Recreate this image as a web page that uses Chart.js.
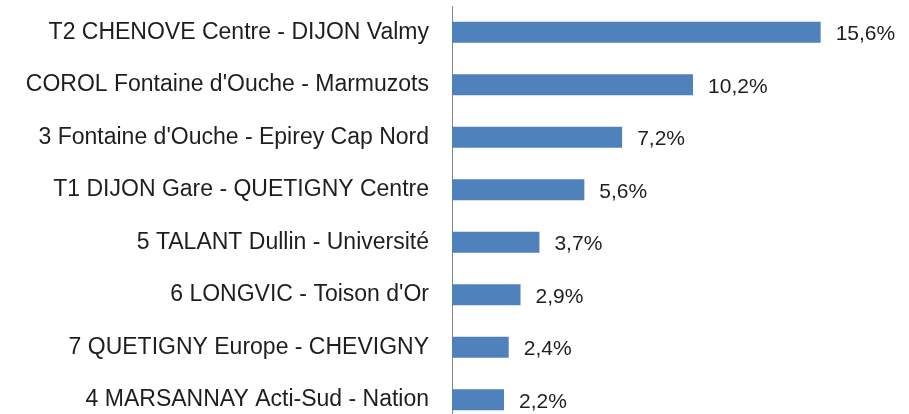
<!DOCTYPE html>
<html>
<head>
<meta charset="utf-8">
<script src="https://cdn.jsdelivr.net/npm/chart.js@4/dist/chart.umd.min.js"></script>
<style>
  html, body { margin: 0; padding: 0; background: #fff; overflow: hidden; }
  #box { width: 909px; height: 430px; position: relative; }
</style>
</head>
<body>
<div id="box"><canvas id="grafico"></canvas></div>
<script>
// lignes et parts (%)
const lignes = [
  'T2 CHENOVE Centre - DIJON Valmy',
  "COROL Fontaine d'Ouche - Marmuzots",
  "3 Fontaine d'Ouche - Epirey Cap Nord",
  'T1 DIJON Gare - QUETIGNY Centre',
  '5 TALANT Dullin - Université',
  "6 LONGVIC - Toison d'Or",
  '7 QUETIGNY Europe - CHEVIGNY',
  '4 MARSANNAY Acti-Sud - Nation'
];
const parts = [15.6, 10.2, 7.2, 5.6, 3.7, 2.9, 2.4, 2.2];

const police = "'Liberation Sans', Arial, sans-serif";

// étiquettes de valeur à droite des barres
const etiquettes = {
  id: 'etiquettes',
  afterDatasetsDraw(chart) {
    const { ctx } = chart;
    const meta = chart.getDatasetMeta(0);
    ctx.save();
    ctx.font = `21px ${police}`;
    ctx.fillStyle = '#1e1e1e';
    ctx.textBaseline = 'middle';
    ctx.textAlign = 'left';
    meta.data.forEach((bar, i) => {
      ctx.fillText(parts[i].toFixed(1).replace('.', ',') + '%', bar.x + 15, bar.y + 2);
    });
    ctx.restore();
  }
};

new Chart(document.getElementById('grafico'), {
  type: 'bar',
  data: {
    labels: lignes,
    datasets: [{
      data: parts,
      backgroundColor: '#4F81BD',
      borderWidth: 0,
      categoryPercentage: 1,
      barPercentage: 0.4
    }]
  },
  options: {
    indexAxis: 'y',
    responsive: true,
    maintainAspectRatio: false,
    animation: false,
    layout: { padding: { top: 6, bottom: 4, right: 8, left: 0 } },
    plugins: { legend: { display: false }, tooltip: { enabled: false } },
    scales: {
      x: { display: false, min: 0, max: 19 },
      y: {
        grid: { display: false, drawTicks: false },
        border: { display: true, color: '#868686', width: 1 },
        ticks: { color: '#1e1e1e', padding: 23, autoSkip: false, font: { family: police, size: 23 } },
        afterFit(scale) {
          scale.width = 452;
          scale.paddingTop = 0;
          scale.paddingBottom = 0;
        }
      }
    }
  },
  plugins: [etiquettes]
});
</script>
</body>
</html>
